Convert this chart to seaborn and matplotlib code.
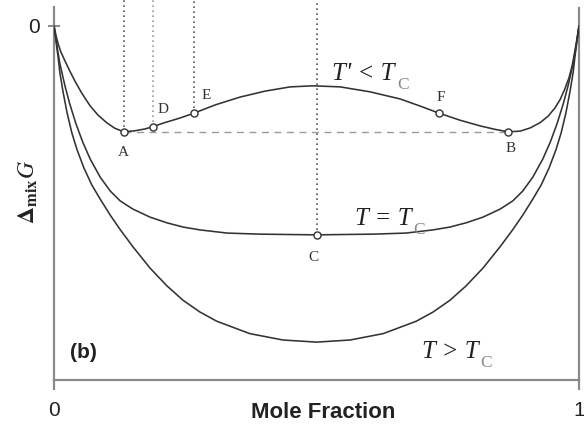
import matplotlib
matplotlib.use("Agg")
import matplotlib.pyplot as plt
import seaborn as sns
import pandas as pd

# Free energy of mixing curves (arbitrary units, 0 at the pure components)
# T' < Tc : two minima joined by a common tangent
x_low = [0.0, 0.004, 0.008, 0.013, 0.021, 0.030, 0.040, 0.053, 0.069, 0.084,
         0.101, 0.116, 0.133, 0.154, 0.173, 0.189, 0.211, 0.240, 0.267, 0.307,
         0.354, 0.402, 0.450, 0.493, 0.545, 0.602, 0.659, 0.697, 0.733, 0.773,
         0.811, 0.840, 0.865, 0.888, 0.907, 0.926, 0.941, 0.954, 0.964, 0.973,
         0.981, 0.987, 0.992, 0.996, 1.0]
g_low = [0.0, -0.028, -0.051, -0.073, -0.099, -0.127, -0.156, -0.190, -0.226, -0.252,
         -0.274, -0.289, -0.299, -0.296, -0.291, -0.284, -0.273, -0.260, -0.246, -0.223,
         -0.201, -0.184, -0.172, -0.169, -0.172, -0.186, -0.206, -0.226, -0.246, -0.266,
         -0.282, -0.292, -0.299, -0.297, -0.288, -0.273, -0.255, -0.232, -0.208, -0.178,
         -0.146, -0.112, -0.072, -0.038, 0.0]

# T = Tc : flat-bottomed curve
x_crit = [0.0, 0.006, 0.011, 0.021, 0.030, 0.042, 0.055, 0.069, 0.088, 0.107,
          0.126, 0.150, 0.183, 0.215, 0.246, 0.278, 0.330, 0.392, 0.5,
          0.608, 0.670, 0.722, 0.754, 0.785, 0.817, 0.850, 0.874, 0.893, 0.912,
          0.931, 0.945, 0.958, 0.970, 0.979, 0.989, 0.994, 1.0]
g_crit = [0.0, -0.060, -0.105, -0.170, -0.220, -0.277, -0.329, -0.376, -0.427, -0.466,
          -0.494, -0.517, -0.540, -0.556, -0.568, -0.576, -0.585, -0.588, -0.590,
          -0.588, -0.585, -0.576, -0.568, -0.556, -0.540, -0.517, -0.494, -0.466, -0.427,
          -0.376, -0.329, -0.277, -0.220, -0.170, -0.105, -0.060, 0.0]

# T > Tc : single broad minimum
x_high = [0.0, 0.004, 0.008, 0.011, 0.017, 0.025, 0.034, 0.044, 0.057, 0.072,
          0.088, 0.107, 0.126, 0.150, 0.183, 0.215, 0.246, 0.278, 0.310, 0.373,
          0.436, 0.5, 0.564, 0.627, 0.690, 0.722, 0.754, 0.785, 0.817, 0.850,
          0.874, 0.893, 0.912, 0.928, 0.943, 0.956, 0.966, 0.975, 0.983, 0.989,
          0.992, 0.996, 1.0]
g_high = [0.0, -0.045, -0.090, -0.130, -0.184, -0.246, -0.302, -0.350, -0.401, -0.449,
          -0.489, -0.534, -0.575, -0.623, -0.684, -0.734, -0.775, -0.808, -0.834, -0.869,
          -0.887, -0.893, -0.887, -0.869, -0.834, -0.808, -0.775, -0.734, -0.684, -0.623,
          -0.575, -0.534, -0.489, -0.449, -0.401, -0.350, -0.302, -0.246, -0.184, -0.130,
          -0.090, -0.045, 0.0]

# Marked compositions on the curves
pt_names = ["A", "D", "E", "F", "B", "C"]
pt_x = [0.133, 0.189, 0.267, 0.733, 0.865, 0.5]
pt_g = [-0.299, -0.284, -0.246, -0.246, -0.299, -0.590]
# Points whose composition is projected up to the top with a dotted line
drop_names = ["A", "D", "E", "C"]

# Curve captions: main part and subscript
curve_labels = ["T' < T", "T = T", "T > T"]
curve_sub = ["C", "C", "C"]

panel_tag = "(b)"
xlabel = "Mole Fraction"
ylabel = r"$\mathbf{\Delta}_{\mathbf{mix}}\mathit{G}$"
x_ticks = [0, 1]
x_ticklabels = ["0", "1"]
y_ticks = [0]
y_ticklabels = ["0"]

sns.set_theme(style="white")
plt.rcParams["font.family"] = ["Liberation Sans", "DejaVu Sans"]
plt.rcParams["mathtext.fontset"] = "stix"

fig = plt.figure(figsize=(5.84, 4.28), dpi=100)
ax = fig.add_axes([54 / 584, 48 / 428, 525 / 584, 380 / 428])

y_top = 0.0734
ax.set_xlim(0, 1)
ax.set_ylim(-1.0, y_top)

curve_col = "#333333"
axis_col = "#8a8a8a"

# guide lines
ax.plot([pt_x[0], pt_x[4]], [pt_g[0], pt_g[4]], ls=(0, (5, 4)), lw=1.0,
        color="#9a9a9a", zorder=1)
for name, xv, gv in zip(pt_names, pt_x, pt_g):
    if name in drop_names:
        col = "#9a9a9a" if name == "D" else "#555555"
        ax.vlines(xv, gv, y_top, colors=col, linestyles=(0, (1, 2)), lw=1.2, zorder=1)

frames = [
    pd.DataFrame({"x": x_low, "g": g_low}),
    pd.DataFrame({"x": x_crit, "g": g_crit}),
    pd.DataFrame({"x": x_high, "g": g_high}),
]
for df in frames:
    sns.lineplot(data=df, x="x", y="g", sort=False, color=curve_col, lw=1.15,
                 ax=ax, zorder=3)

ax.scatter(pt_x, pt_g, s=26, facecolor="white", edgecolor="#333333",
           linewidths=1.0, zorder=5)

label_pos = {"A": (0.133, -0.356), "D": (0.207, -0.237), "E": (0.289, -0.197),
             "F": (0.737, -0.203), "B": (0.869, -0.347), "C": (0.494, -0.655)}
for name in pt_names:
    lx, ly = label_pos[name]
    ax.text(lx, ly, name, ha="center", va="center", fontsize=11,
            family="Liberation Serif", color="#333333")

cap_pos = [(0.530, -0.153), (0.573, -0.562), (0.701, -0.938)]
for (cx, cy), main, sub in zip(cap_pos, curve_labels, curve_sub):
    t = ax.text(cx, cy, main, ha="left", va="baseline", fontsize=18,
                family="Liberation Serif", style="italic", color="#222222")
    ax.annotate(sub, xy=(1, 0), xycoords=t, xytext=(1.5, -3),
                textcoords="offset points", ha="left", va="baseline",
                fontsize=12.5, family="Liberation Serif", color="#8a8a8a")

ax.text(0.030, -0.921, panel_tag, ha="left", va="center", fontsize=15,
        fontweight="bold", color="#222222")

# axes styling
sns.despine(ax=ax, top=True, right=False, left=False, bottom=False)
for side in ["left", "right", "bottom"]:
    ax.spines[side].set_color(axis_col)
    ax.spines[side].set_linewidth(1.6)
ax.spines["left"].set_bounds(-1.0, 0.054)
ax.spines["right"].set_bounds(-1.0, 0.050)

ax.set_xticks(x_ticks)
ax.set_xticklabels(x_ticklabels)
ax.set_yticks(y_ticks)
ax.set_yticklabels(y_ticklabels)
ax.tick_params(axis="x", direction="out", length=7, width=1.6, color=axis_col,
               labelsize=15, pad=8, labelcolor="#222222", bottom=True)
ax.tick_params(axis="y", direction="inout", length=9, width=1.4, color=axis_col,
               labelsize=15, pad=6, labelcolor="#222222", left=True)
ax.set_xlabel("")
ax.set_ylabel("")

fig.text(323 / 584, 1 - 413 / 428, xlabel, ha="center", va="center",
         fontsize=16, fontweight="bold", color="#222222")
fig.text(28 / 584, 1 - 192 / 428, ylabel, ha="center", va="center",
         rotation=90, fontsize=17, color="#222222")

fig.savefig("out.png", dpi=100)
